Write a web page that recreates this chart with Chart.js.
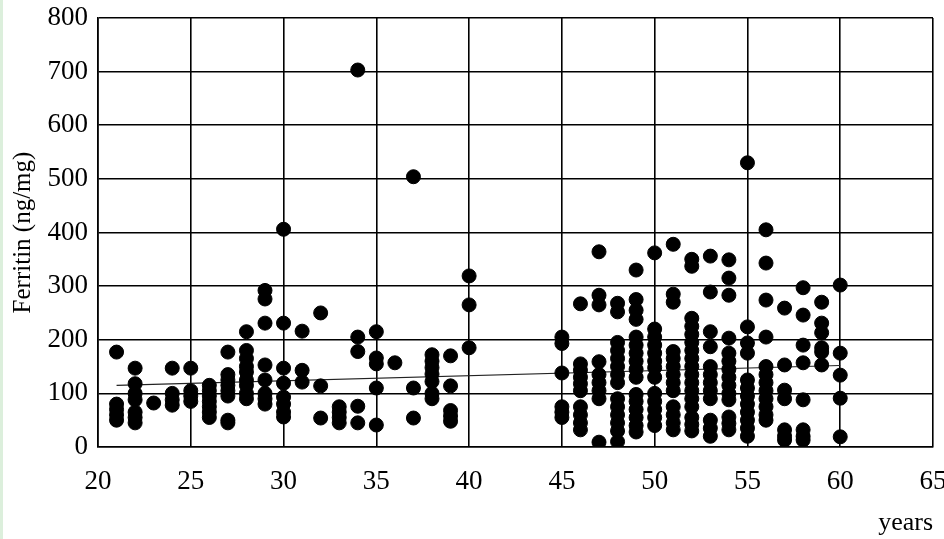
<!DOCTYPE html>
<html>
<head>
<meta charset="utf-8">
<title>Ferritin by age</title>
<script src="https://cdn.jsdelivr.net/npm/chart.js@4/dist/chart.umd.min.js"></script>
<style>
    html, body { margin: 0; padding: 0; background: #fff; }
    #wrap { width: 944px; height: 539px; }
</style>
</head>
<body>
<div id="wrap"><canvas id="ferritinChart" width="944" height="539"></canvas></div>
<script>
// === Data ===
const ages = [21, 22, 23, 24, 25, 26, 27, 28, 29, 30, 31, 32, 33, 34, 35, 36, 37, 38, 39, 40,
    45, 46, 47, 48, 49, 50, 51, 52, 53, 54, 55, 56, 57, 58, 59, 60];

const ferritin = [
    [177, 80, 70, 60, 50],                      // 21
    [147, 118, 100, 88, 65, 55, 45],            // 22
    [82],                                       // 23
    [147, 100, 88, 78],                         // 24
    [147, 105, 95, 85],                         // 25
    [115, 105, 95, 85, 75, 65, 55],             // 26
    [177, 135, 125, 115, 105, 95, 50, 45],      // 27
    [215, 180, 165, 150, 140, 125, 115, 100, 90], // 28
    [292, 276, 231, 153, 125, 100, 90, 80],     // 29
    [406, 231, 147, 119, 93, 80, 65, 56],       // 30
    [216, 143, 121],                            // 31
    [250, 114, 54],                             // 32
    [75, 65, 55, 45],                           // 33
    [703, 205, 178, 76, 45],                    // 34
    [215, 166, 155, 110, 41],                   // 35
    [157],                                      // 36
    [504, 110, 54],                             // 37
    [172, 160, 148, 136, 122, 100, 90],         // 38
    [170, 114, 68, 58, 48],                     // 39
    [319, 265, 185],                            // 40
    [205, 193, 138, 75, 65, 55],                // 45
    [267, 155, 143, 130, 118, 105, 75, 60, 45, 32], // 46
    [364, 283, 265, 159, 135, 120, 105, 90, 9], // 47
    [268, 252, 195, 180, 165, 150, 135, 120, 90, 75, 60, 45, 30, 10], // 48
    [330, 275, 255, 238, 205, 190, 175, 160, 145, 130, 98, 85, 70, 55, 40, 28], // 49
    [362, 220, 205, 190, 175, 160, 148, 130, 100, 85, 70, 55, 40], // 50
    [378, 285, 270, 178, 165, 150, 135, 120, 105, 75, 60, 45, 32], // 51
    [350, 337, 240, 225, 210, 195, 180, 165, 150, 135, 120, 105, 90, 75, 55, 42, 30], // 52
    [356, 289, 215, 187, 150, 135, 120, 105, 90, 50, 35, 20], // 53
    [349, 315, 283, 203, 175, 160, 145, 130, 115, 100, 88, 56, 44, 32], // 54
    [530, 224, 194, 175, 125, 110, 95, 80, 65, 50, 35, 20], // 55
    [405, 343, 274, 205, 150, 135, 120, 105, 90, 75, 60, 50], // 56
    [259, 153, 106, 90, 32, 20, 13],            // 57
    [297, 246, 190, 157, 88, 32, 20, 13],       // 58
    [270, 231, 213, 185, 177, 153],             // 59
    [302, 175, 134, 91, 19]                     // 60
];

// trend line end points
const trendAges = [21, 60];
const trendValues = [115, 152];

const xTicks = [20, 25, 30, 35, 40, 45, 50, 55, 60, 65];
const yTicks = [0, 100, 200, 300, 400, 500, 600, 700, 800];

// build point list for the scatter
const points = [];
ages.forEach((age, i) => {
    ferritin[i].forEach(v => points.push({ x: age, y: v }));
});
const trend = trendAges.map((a, i) => ({ x: a, y: trendValues[i] }));

const serif = "'Liberation Serif', 'Times New Roman', serif";

// white background + thin green strip on the left edge
const backgroundPlugin = {
    id: 'background',
    beforeDraw(chart) {
        const ctx = chart.ctx;
        ctx.save();
        ctx.fillStyle = '#fff';
        ctx.fillRect(0, 0, chart.width, chart.height);
        ctx.fillStyle = '#dcefdc';
        ctx.fillRect(0, 0, 3, chart.height);
        ctx.restore();
    }
};

const ctx = document.getElementById('ferritinChart').getContext('2d');
const chart = new Chart(ctx, {
    type: 'scatter',
    data: {
        datasets: [{
            label: 'Ferritin',
            data: points,
            backgroundColor: '#000',
            borderColor: '#000',
            pointRadius: 7,
            pointHoverRadius: 7
        }, {
            type: 'line',
            label: 'Trend',
            data: trend,
            borderColor: '#222',
            borderWidth: 1.2,
            pointRadius: 0,
            fill: false
        }]
    },
    options: {
        responsive: false,
        animation: false,
        layout: {
            padding: { top: 18, right: 11, left: 0, bottom: 0 }
        },
        plugins: {
            legend: { display: false },
            tooltip: { enabled: false }
        },
        scales: {
            x: {
                type: 'linear',
                min: 20,
                max: 65,
                afterBuildTicks: (scale) => { scale.ticks = xTicks.map(v => ({ value: v })); },
                afterFit: (scale) => {
                    scale.height = 92;
                    scale.paddingLeft = 0;
                    scale.paddingRight = 0;
                },
                grid: { color: '#000', lineWidth: 1.6, drawTicks: false },
                border: { color: '#000', width: 1.6 },
                ticks: {
                    color: '#000',
                    padding: 19,
                    maxRotation: 0,
                    font: { family: serif, size: 27 }
                },
                title: {
                    display: true,
                    text: 'years',
                    align: 'end',
                    color: '#000',
                    padding: { top: 4, bottom: 0 },
                    font: { family: serif, size: 26 }
                }
            },
            y: {
                min: 0,
                max: 800,
                afterBuildTicks: (scale) => { scale.ticks = yTicks.map(v => ({ value: v })); },
                afterFit: (scale) => {
                    scale.width = 98;
                    scale.paddingTop = 0;
                    scale.paddingBottom = 0;
                },
                grid: { color: '#000', lineWidth: 1.6, drawTicks: false },
                border: { color: '#000', width: 1.6 },
                ticks: {
                    color: '#000',
                    padding: 10,
                    font: { family: serif, size: 27 }
                },
                title: {
                    display: true,
                    text: 'Ferritin (ng/mg)',
                    color: '#000',
                    padding: { top: 8, bottom: 0 },
                    font: { family: serif, size: 25 }
                }
            }
        }
    },
    plugins: [backgroundPlugin]
});
</script>
</body>
</html>
